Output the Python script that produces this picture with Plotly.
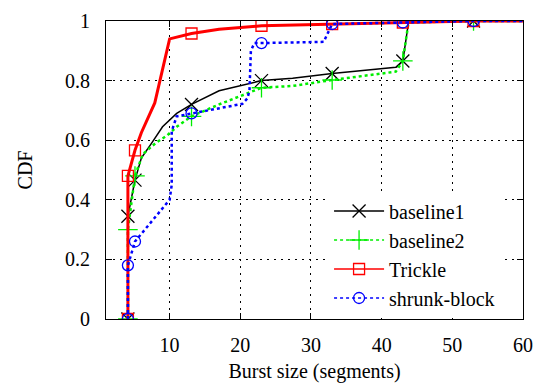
import plotly.graph_objects as go

# ---- data ----
b1_x = [4.1, 4.1, 5.1, 6.0, 7.6, 9.0, 11.0, 13.1, 17.0, 23.0, 27.4, 33.0, 42.0, 43.0, 43.8, 53.0, 60.0]
b1_y = [0.0, 0.345, 0.466, 0.54, 0.595, 0.645, 0.69, 0.72, 0.766, 0.80, 0.808, 0.824, 0.845, 0.866, 0.995, 1.0, 1.0]
b1_mx = [4.1, 4.1, 5.1, 13.1, 23.0, 33.0, 43.0, 53.0]
b1_my = [0.0, 0.345, 0.466, 0.72, 0.80, 0.824, 0.866, 1.0]

b2_x = [4.1, 4.1, 5.1, 6.2, 8.0, 9.7, 11.0, 13.1, 17.0, 23.0, 27.4, 33.0, 42.0, 43.0, 43.8, 53.0, 60.0]
b2_y = [0.0, 0.30, 0.48, 0.553, 0.59, 0.617, 0.645, 0.68, 0.72, 0.776, 0.782, 0.802, 0.83, 0.866, 0.995, 1.0, 1.0]
b2_mx = [4.1, 4.1, 5.1, 13.1, 23.0, 33.0, 43.0, 53.0]
b2_my = [0.0, 0.30, 0.48, 0.68, 0.776, 0.802, 0.866, 1.0]

tr_x = [4.1, 4.1, 5.1, 6.0, 7.9, 10.0, 13.1, 17.0, 23.0, 33.0, 43.0, 53.0, 60.0]
tr_y = [0.0, 0.48, 0.566, 0.625, 0.725, 0.94, 0.958, 0.972, 0.984, 0.99, 0.995, 1.0, 1.0]
tr_mx = [4.1, 4.1, 5.1, 13.1, 23.0, 33.0, 43.0, 53.0]
tr_my = [0.0, 0.48, 0.566, 0.958, 0.984, 0.99, 0.995, 1.0]

sb_x = [4.1, 4.1, 5.1, 10.0, 10.3, 10.3, 11.0, 13.1, 20.3, 21.0, 21.3, 21.5, 22.0, 23.0, 31.8, 33.0, 43.0, 53.0, 60.0]
sb_y = [0.0, 0.18, 0.26, 0.40, 0.45, 0.63, 0.68, 0.69, 0.722, 0.74, 0.766, 0.90, 0.926, 0.926, 0.93, 0.99, 0.995, 1.0, 1.0]
sb_mx = [4.1, 4.1, 5.1, 13.1, 23.0, 33.0, 43.0, 53.0]
sb_my = [0.0, 0.18, 0.26, 0.69, 0.926, 0.99, 0.995, 1.0]

x_ticks = [10, 20, 30, 40, 50, 60]
y_ticks = [0, 0.2, 0.4, 0.6, 0.8, 1]

series = [
    ("baseline1", b1_x, b1_y, b1_mx, b1_my, "black", 1.5, "solid", "x-thin-open", 13),
    ("baseline2", b2_x, b2_y, b2_mx, b2_my, "#00ee00", 2.5, "dot", "cross-thin-open", 14),
    ("Trickle", tr_x, tr_y, tr_mx, tr_my, "#ff0000", 3, "solid", "square-open", 11),
    ("shrunk-block", sb_x, sb_y, sb_mx, sb_my, "#0000ff", 2.5, "dot", "circle-open", 11),
]

FONT = "Liberation Serif"
FS = 20
fig = go.Figure()
for name, x, y, mx, my, col, w, dash, sym, ms in series:
    fig.add_trace(go.Scatter(x=x, y=y, mode="lines", line=dict(color=col, width=w, dash=dash),
                             showlegend=False, hoverinfo="skip"))
    fig.add_trace(go.Scatter(x=mx, y=my, mode="markers",
                             marker=dict(symbol=sym, size=ms, color=col, line=dict(color=col, width=1.3)),
                             showlegend=False))
for name, x, y, mx, my, col, w, dash, sym, ms in series:
    fig.add_trace(go.Scatter(x=[None], y=[None], mode="lines+markers", name=name,
                             line=dict(color=col, width=min(w, 1.5), dash=dash),
                             marker=dict(symbol=sym, size=ms, color=col, line=dict(color=col, width=1.3))))

axis_common = dict(
    showline=True, linecolor="black", linewidth=1.2, mirror="allticks",
    ticks="inside", ticklen=6, tickcolor="black",
    showgrid=True, gridcolor="black", gridwidth=1, griddash="2px,5px",
    zeroline=False, tickfont=dict(family=FONT, size=FS, color="black"),
)

fig.update_xaxes(range=[1, 60], tickvals=x_ticks, ticktext=[str(v) for v in x_ticks],
                 title=dict(text="Burst size (segments)", font=dict(family=FONT, size=FS, color="black"), standoff=8),
                 ticklabelstandoff=8, **axis_common)
fig.update_yaxes(range=[0, 1], tickvals=y_ticks, ticktext=["0", "0.2", "0.4", "0.6", "0.8", "1"],
                 title=dict(text="CDF", font=dict(family=FONT, size=FS, color="black"), standoff=26),
                 ticklabelstandoff=11, **axis_common)

fig.update_layout(
    width=543, height=388,
    margin=dict(l=106, r=18, t=10, b=65),
    plot_bgcolor="white", paper_bgcolor="white",
    font=dict(family=FONT, size=FS, color="black"),
    legend=dict(x=0.945, xanchor="right", y=0.005, yanchor="bottom",
                bgcolor="white", borderwidth=0, tracegroupgap=0,
                font=dict(family=FONT, size=FS, color="black"), itemwidth=50),
)

fig.write_html("out.html")
